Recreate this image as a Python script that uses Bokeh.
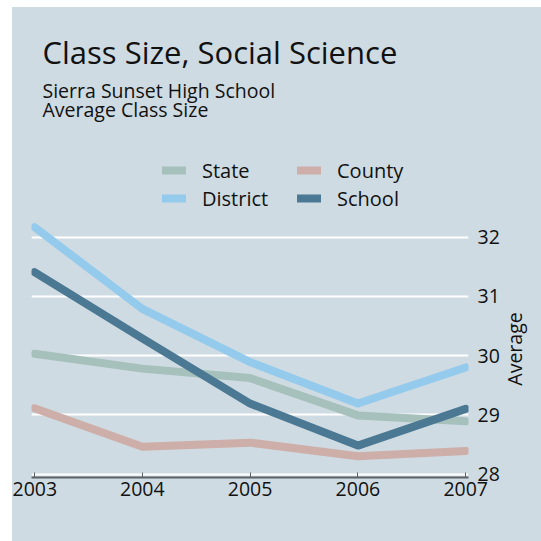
from bokeh.plotting import figure
from bokeh.layouts import column, row
from bokeh.models import FixedTicker, Label, Legend, LegendItem, Range1d
from bokeh.embed import file_html
from bokeh.resources import INLINE

# ---- data ----
years = [2003, 2004, 2005, 2006, 2007]
state = [30.03, 29.78, 29.62, 28.99, 28.89]
county = [29.11, 28.46, 28.53, 28.30, 28.39]
district = [32.17, 30.79, 29.89, 29.19, 29.80]
school = [31.41, 30.29, 29.19, 28.48, 29.10]
y_ticks = [28, 29, 30, 31, 32]
series_names = ["State", "County", "District", "School"]
legend_rows = [["State", "County"], ["District", "School"]]
title_text = "Class Size, Social Science"
subtitle_lines = ["Sierra Sunset High School", "Average Class Size"]
y_label = "Average"

# ---- style ----
BG = "#cfdbe2"
FONT = "Open Sans"
TXT = "#111111"
colors = {"State": "#a6c0bb", "County": "#cdaea8", "District": "#94caec", "School": "#4b7893"}
BG_CSS = {"background-color": BG}


def styled(fig):
    fig.background_fill_color = BG
    fig.border_fill_color = BG
    fig.outline_line_color = None
    fig.styles = BG_CSS
    return fig


# ---------- header (title + subtitle) ----------
header = styled(figure(frame_width=529, frame_height=141, min_border=0,
                       x_range=Range1d(0, 1), y_range=Range1d(0, 1),
                       x_axis_location=None, y_axis_location=None, title_location=None,
                       output_backend="svg", toolbar_location=None))
header.grid.visible = False
header.add_layout(Label(x=30, y=97, x_units="screen", y_units="screen", text=title_text,
                        text_font=FONT, text_font_size="31px", text_color=TXT,
                        text_baseline="alphabetic"))
for i, line in enumerate(subtitle_lines):
    header.add_layout(Label(x=30, y=58 - 19 * i, x_units="screen", y_units="screen", text=line,
                            text_font=FONT, text_font_size="19.5px", text_color=TXT,
                            text_baseline="alphabetic"))

# ---------- main chart (frame also holds the legend area) ----------
p = styled(figure(frame_width=437, frame_height=329,
                  min_border_left=19, min_border_right=33, min_border_top=0, min_border_bottom=64,
                  x_range=Range1d(2002.972, 2007.026), y_range=Range1d(27.941, 33.498),
                  y_axis_location="right", title_location=None,
                  output_backend="svg", toolbar_location=None))

values = {"State": state, "County": county, "District": district, "School": school}
renderers = {}
for name in series_names:
    renderers[name] = p.line(years, values[name], line_color=colors[name], line_width=8,
                             line_cap="round", line_join="round")

p.xgrid.visible = False
p.ygrid.ticker = FixedTicker(ticks=y_ticks)
p.ygrid.grid_line_color = "white"
p.ygrid.grid_line_width = 2

xa = p.xaxis[0]
xa.ticker = FixedTicker(ticks=years)
xa.axis_line_color = "#5d6166"
xa.axis_line_width = 2
xa.major_tick_in = 5
xa.major_tick_out = 0
xa.major_tick_line_color = "#5d6166"
xa.minor_tick_line_color = None
xa.major_label_text_font = FONT
xa.major_label_text_font_size = "19.5px"
xa.major_label_text_color = TXT
xa.major_label_standoff = 4

ya = p.yaxis[0]
ya.ticker = FixedTicker(ticks=y_ticks)
ya.axis_line_color = None
ya.major_tick_line_color = None
ya.minor_tick_line_color = None
ya.major_tick_in = 0
ya.major_tick_out = 0
ya.major_label_text_font = FONT
ya.major_label_text_font_size = "19.5px"
ya.major_label_text_color = TXT
ya.major_label_standoff = 9

for names, vy in zip(legend_rows, [293, 264.7]):
    leg = Legend(items=[LegendItem(label=n, renderers=[renderers[n]]) for n in names],
                 orientation="horizontal", location=(131, vy),
                 glyph_width=24, glyph_height=28, label_width=95, label_height=28,
                 label_standoff=16, spacing=0, padding=0, margin=0,
                 border_line_color=None, background_fill_alpha=0,
                 label_text_font=FONT, label_text_font_size="20px", label_text_color=TXT)
    p.add_layout(leg, "center")

# ---------- side strip carrying the rotated axis title (transparent, overlaps slightly) ----------
side = figure(frame_width=18, frame_height=257,
              min_border_left=0, min_border_right=0, min_border_top=72, min_border_bottom=64,
              x_range=Range1d(0, 1), y_range=Range1d(27.941, 32.282),
              x_axis_location=None, y_axis_location="left", title_location=None,
              output_backend="svg", toolbar_location=None)
side.background_fill_alpha = 0
side.border_fill_alpha = 0
side.outline_line_color = None
side.grid.visible = False
sa = side.yaxis[0]
sa.ticker = FixedTicker(ticks=[])
sa.axis_line_color = None
sa.major_tick_line_color = None
sa.minor_tick_line_color = None
sa.major_tick_in = 0
sa.major_tick_out = 0
sa.major_label_standoff = 0
sa.axis_label = y_label
sa.axis_label_standoff = 0
sa.axis_label_text_font = FONT
sa.axis_label_text_font_size = "19.5px"
sa.axis_label_text_font_style = "normal"
sa.axis_label_text_color = TXT

side_col = column(side, spacing=0, margin=(0, 0, 0, -5))
body = row(p, side_col, spacing=0, styles=BG_CSS)
layout = column(header, body, spacing=0, margin=(7, 0, 0, 12), styles=BG_CSS)
open("out.html", "w").write(file_html(layout, INLINE))
